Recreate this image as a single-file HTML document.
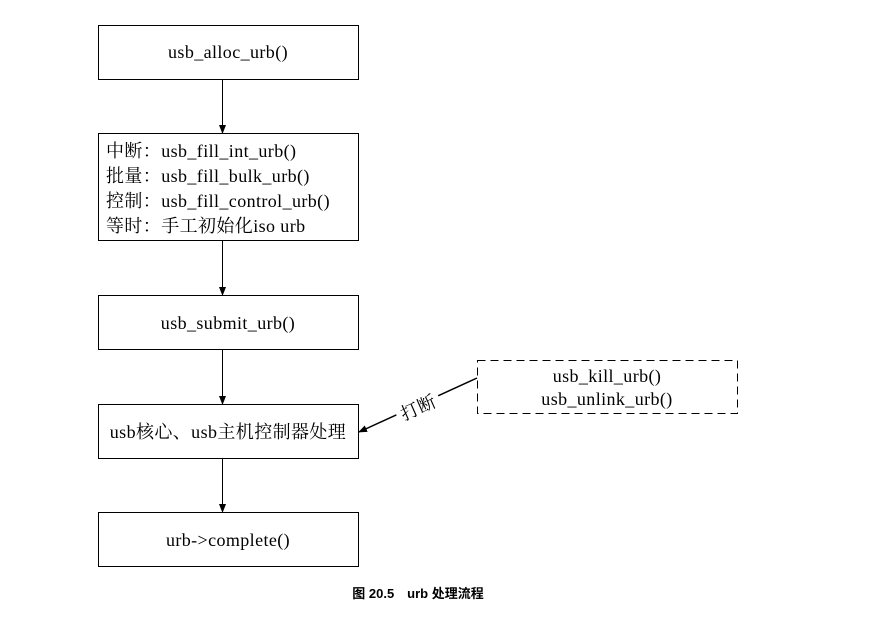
<!DOCTYPE html>
<html><head><meta charset="utf-8"><style>
body{margin:0;background:#fff;}
svg text{font-family:"Liberation Serif","Noto Serif CJK SC",serif;font-size:18px;letter-spacing:0.4px;fill:#000;}
</style></head><body>
<svg width="869" height="615" xmlns="http://www.w3.org/2000/svg">
<defs><marker id="a" markerWidth="9" markerHeight="7" refX="8" refY="3.5" orient="auto" markerUnits="userSpaceOnUse"><path d="M0,0 L9,3.5 L0,7 z" fill="#000"/></marker></defs>
<g fill="none" stroke="#000" stroke-width="1">
<rect x="98.5" y="25.5" width="260" height="54"/>
<rect x="98.5" y="133.5" width="260" height="107"/>
<rect x="98.5" y="295.5" width="260" height="54"/>
<rect x="98.5" y="404.5" width="260" height="54"/>
<rect x="98.5" y="512.5" width="260" height="54"/>
<rect x="477.5" y="360.5" width="260" height="53" stroke-dasharray="8,5"/>
<line x1="222.5" y1="80" x2="222.5" y2="133" marker-end="url(#a)"/>
<line x1="222.5" y1="241" x2="222.5" y2="295" marker-end="url(#a)"/>
<line x1="222.5" y1="350" x2="222.5" y2="404" marker-end="url(#a)"/>
<line x1="222.5" y1="459" x2="222.5" y2="512" marker-end="url(#a)"/>
<line x1="477" y1="378" x2="359" y2="432" stroke-width="1.5" marker-end="url(#a)"/>
</g>
<rect x="395" y="396" width="46" height="22" fill="#fff" transform="rotate(-24 418 407)"/>
<text x="418" y="414" text-anchor="middle" transform="rotate(-24 418 407)">打断</text>
<text x="228" y="58" text-anchor="middle">usb_alloc_urb()</text>
<text x="106" y="157">中断：usb_fill_int_urb()</text>
<text x="106" y="182">批量：usb_fill_bulk_urb()</text>
<text x="106" y="207">控制：usb_fill_control_urb()</text>
<text x="106" y="232">等时：手工初始化iso urb</text>
<text x="228" y="329" text-anchor="middle">usb_submit_urb()</text>
<text x="228" y="438" text-anchor="middle">usb核心、usb主机控制器处理</text>
<text x="228" y="546" text-anchor="middle">urb-&gt;complete()</text>
<text x="607" y="382" text-anchor="middle">usb_kill_urb()</text>
<text x="607" y="405" text-anchor="middle">usb_unlink_urb()</text>
<text x="418" y="598" text-anchor="middle" style="font-family:'Liberation Sans','Noto Sans CJK SC',sans-serif;font-size:13px;font-weight:bold;letter-spacing:0">图 20.5　urb 处理流程</text>
</svg>
</body></html>
